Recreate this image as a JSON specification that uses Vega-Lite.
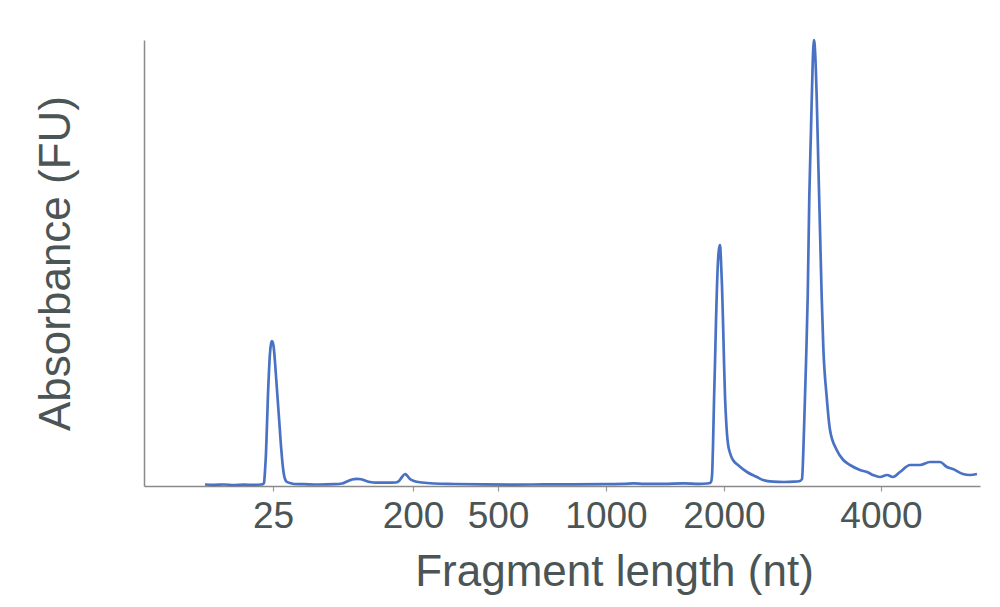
{
  "$schema": "https://vega.github.io/schema/vega-lite/v6.json",
  "width": 836,
  "height": 446,
  "autosize": {"type": "none"},
  "padding": {"left": 144, "top": 40, "right": 20, "bottom": 121},
  "background": "white",
  "data": {
    "values": [
      {"t": 61, "v": 1.5}, {"t": 70, "v": 1.2}, {"t": 80, "v": 1.5}, {"t": 90, "v": 1.0},
      {"t": 100, "v": 1.3}, {"t": 110, "v": 1.2}, {"t": 117, "v": 1.5}, {"t": 119, "v": 2},
      {"t": 120, "v": 3}, {"t": 121, "v": 15}, {"t": 122, "v": 33}, {"t": 123, "v": 62},
      {"t": 124, "v": 92}, {"t": 125, "v": 115}, {"t": 126, "v": 133}, {"t": 127, "v": 142},
      {"t": 128, "v": 145}, {"t": 129, "v": 143}, {"t": 130, "v": 136}, {"t": 131, "v": 124},
      {"t": 132, "v": 110}, {"t": 133, "v": 96}, {"t": 134, "v": 82}, {"t": 135, "v": 68},
      {"t": 136, "v": 54}, {"t": 137, "v": 40}, {"t": 138, "v": 28}, {"t": 139, "v": 18},
      {"t": 140, "v": 11}, {"t": 141, "v": 7}, {"t": 143, "v": 4}, {"t": 146, "v": 3}, {"t": 150, "v": 2},
      {"t": 160, "v": 1.8}, {"t": 175, "v": 1.5}, {"t": 190, "v": 1.8}, {"t": 198, "v": 2.5},
      {"t": 203, "v": 4.5}, {"t": 208, "v": 6.5}, {"t": 213, "v": 7.2}, {"t": 217, "v": 6.8},
      {"t": 221, "v": 5.5}, {"t": 226, "v": 4}, {"t": 232, "v": 3.3}, {"t": 242, "v": 3.3},
      {"t": 252, "v": 3.5}, {"t": 255, "v": 5}, {"t": 258, "v": 9}, {"t": 261, "v": 12},
      {"t": 263, "v": 10.5}, {"t": 266, "v": 7}, {"t": 270, "v": 5}, {"t": 278, "v": 3.5},
      {"t": 290, "v": 2.5}, {"t": 310, "v": 2}, {"t": 340, "v": 1.6}, {"t": 370, "v": 1.4},
      {"t": 400, "v": 1.6}, {"t": 430, "v": 1.7}, {"t": 460, "v": 1.9}, {"t": 480, "v": 2.1},
      {"t": 490, "v": 2.6}, {"t": 500, "v": 2.1}, {"t": 520, "v": 2.2}, {"t": 540, "v": 2.7},
      {"t": 555, "v": 2.2}, {"t": 563, "v": 2.5}, {"t": 566, "v": 3}, {"t": 567, "v": 4},
      {"t": 568, "v": 10}, {"t": 569, "v": 40}, {"t": 570, "v": 85}, {"t": 571, "v": 123},
      {"t": 572, "v": 165}, {"t": 573, "v": 200}, {"t": 574, "v": 225}, {"t": 575, "v": 237},
      {"t": 576, "v": 241}, {"t": 577, "v": 225}, {"t": 578, "v": 200}, {"t": 579, "v": 165},
      {"t": 580, "v": 125}, {"t": 581, "v": 90}, {"t": 582, "v": 68}, {"t": 583, "v": 52},
      {"t": 584, "v": 42}, {"t": 586, "v": 33}, {"t": 589, "v": 26}, {"t": 594, "v": 21},
      {"t": 603, "v": 14}, {"t": 613, "v": 9}, {"t": 619, "v": 6}, {"t": 629, "v": 4.3},
      {"t": 640, "v": 4}, {"t": 650, "v": 4.3}, {"t": 656, "v": 5}, {"t": 658, "v": 7},
      {"t": 660, "v": 56}, {"t": 662, "v": 123}, {"t": 663.7, "v": 189}, {"t": 665.3, "v": 289},
      {"t": 667, "v": 356}, {"t": 668.7, "v": 423}, {"t": 670, "v": 446}, {"t": 671.3, "v": 430},
      {"t": 672.7, "v": 389}, {"t": 674.3, "v": 323}, {"t": 676, "v": 256}, {"t": 677.7, "v": 189},
      {"t": 679.3, "v": 139}, {"t": 682.7, "v": 89}, {"t": 686, "v": 56}, {"t": 692.7, "v": 36},
      {"t": 699.3, "v": 26}, {"t": 706, "v": 21}, {"t": 716, "v": 16}, {"t": 723, "v": 14},
      {"t": 729, "v": 11}, {"t": 736, "v": 9}, {"t": 743, "v": 11}, {"t": 749, "v": 9},
      {"t": 756, "v": 14}, {"t": 766, "v": 21}, {"t": 776, "v": 21}, {"t": 786, "v": 24},
      {"t": 796, "v": 24}, {"t": 803, "v": 19}, {"t": 809, "v": 17}, {"t": 819, "v": 12},
      {"t": 826, "v": 11}, {"t": 833, "v": 12}
    ]
  },
  "mark": {"type": "line", "color": "#4a72c4", "strokeWidth": 2.7, "interpolate": "monotone"},
  "encoding": {
    "x": {
      "field": "t",
      "type": "quantitative",
      "scale": {"domain": [0, 836], "nice": false, "zero": false},
      "axis": {
        "title": "Fragment length (nt)",
        "values": [129, 269, 354, 462, 580, 737],
        "labelExpr": "datum.value == 129 ? '25' : datum.value == 269 ? '200' : datum.value == 354 ? '500' : datum.value == 462 ? '1000' : datum.value == 580 ? '2000' : '4000'",
        "tickSize": 5,
        "labelPadding": 7,
        "titleX": 470,
        "titleY": 99,
        "titleAlign": "center",
        "titleBaseline": "alphabetic"
      }
    },
    "y": {
      "field": "v",
      "type": "quantitative",
      "scale": {"domain": [0, 446], "nice": false},
      "axis": {
        "title": "Absorbance (FU)",
        "labels": false,
        "ticks": false,
        "titlePadding": 66
      }
    }
  },
  "config": {
    "view": {"stroke": null},
    "font": "Liberation Sans",
    "axis": {
      "grid": false,
      "domainColor": "#8a8a8a",
      "domainWidth": 1.5,
      "tickColor": "#9a9a9a",
      "tickWidth": 1.2,
      "labelFont": "Liberation Sans",
      "labelFontSize": 37,
      "labelColor": "#4b5556",
      "titleFont": "Liberation Sans",
      "titleFontSize": 44,
      "titleFontWeight": "normal",
      "titleColor": "#4b5556"
    }
  }
}
